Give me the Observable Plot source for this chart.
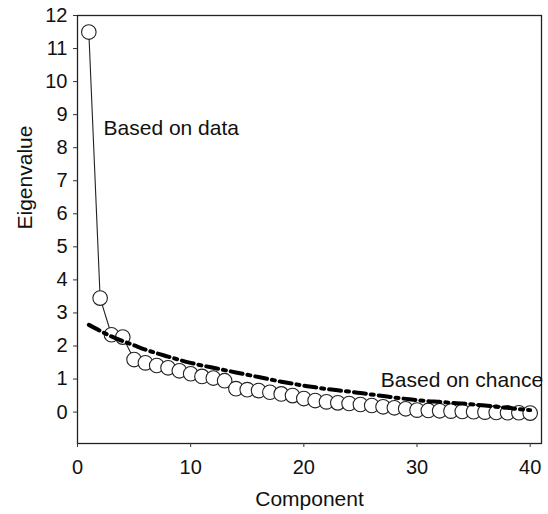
<!DOCTYPE html>
<html>
<head>
<meta charset="utf-8">
<script src="https://cdn.jsdelivr.net/npm/d3@7"></script>
<script src="https://cdn.jsdelivr.net/npm/@observablehq/plot@0.6"></script>
<style>
  html, body { margin: 0; padding: 0; background: #fff; }
  svg { display: block; }
</style>
</head>
<body>
<div id="chart"></div>
<script>
// Component numbers
const components = d3.range(1, 41);
// Eigenvalues based on data
const dataEigen = [11.5, 3.45, 2.34, 2.27, 1.59, 1.49, 1.41, 1.34, 1.25, 1.16,
  1.08, 1.03, 0.95, 0.71, 0.68, 0.65, 0.60, 0.55, 0.50, 0.41,
  0.35, 0.31, 0.28, 0.26, 0.23, 0.20, 0.16, 0.13, 0.10, 0.06,
  0.05, 0.04, 0.03, 0.02, 0.01, 0.00, -0.01, -0.02, -0.02, -0.03];
// Eigenvalues based on chance
const chanceEigen = [2.64, 2.46, 2.29, 2.15, 2.02, 1.89, 1.78, 1.68, 1.58, 1.49,
  1.41, 1.34, 1.27, 1.20, 1.13, 1.06, 0.99, 0.92, 0.86, 0.80,
  0.75, 0.70, 0.66, 0.62, 0.58, 0.53, 0.49, 0.44, 0.40, 0.36,
  0.33, 0.31, 0.28, 0.26, 0.23, 0.20, 0.16, 0.13, 0.09, 0.06];
// Tick values
const xTicks = [0, 10, 20, 30, 40];
const yTicks = d3.range(0, 13);
// Annotation labels
const labelTexts = ["Based on data", "Based on chance"];
const labelX = [2.3, 26.8];
const labelY = [8.6, 0.95];

const dataRows = components.map((c, i) => ({c, v: dataEigen[i]}));
const chanceRows = components.map((c, i) => ({c, v: chanceEigen[i]}));
const labels = labelTexts.map((t, i) => ({t, x: labelX[i], y: labelY[i]}));

const font = "Liberation Sans, Arial, Helvetica, sans-serif";

const chart = Plot.plot({
  width: 548,
  height: 514,
  marginLeft: 77,
  marginRight: 7,
  marginTop: 15,
  marginBottom: 71,
  style: {fontFamily: font, fontSize: "20px", color: "#111", background: "#fff"},
  x: {domain: [0, 41], ticks: xTicks, label: null},
  y: {domain: [-0.95, 12], ticks: yTicks, label: null},
  marks: [
    Plot.frame({stroke: "#222", strokeWidth: 1.3}),
    Plot.axisX({ticks: xTicks, tickSize: 4, tickPadding: 12, fontSize: 20, stroke: "#333", label: null}),
    Plot.axisY({ticks: yTicks, tickSize: 4, tickPadding: 6, fontSize: 20, stroke: "#333", label: null}),
    Plot.line(dataRows, {x: "c", y: "v", stroke: "#222", strokeWidth: 1.1}),
    Plot.dot(dataRows, {x: "c", y: "v", r: 7.3, fill: "white", stroke: "#222", strokeWidth: 1.1}),
    Plot.line(chanceRows, {x: "c", y: "v", stroke: "#000", strokeWidth: 4, strokeDasharray: "12,5,3,5", curve: "monotone-x"}),
    Plot.text(labels, {x: "x", y: "y", text: "t", textAnchor: "start", fontSize: 21, fill: "#111"}),
    Plot.text(["Component"], {frameAnchor: "bottom", dy: 62, lineAnchor: "bottom", fontSize: 21, fill: "#111"}),
    Plot.text(["Eigenvalue"], {frameAnchor: "left", dx: -52, rotate: -90, fontSize: 21, fill: "#111"})
  ]
});
document.getElementById("chart").appendChild(chart);
</script>
</body>
</html>
